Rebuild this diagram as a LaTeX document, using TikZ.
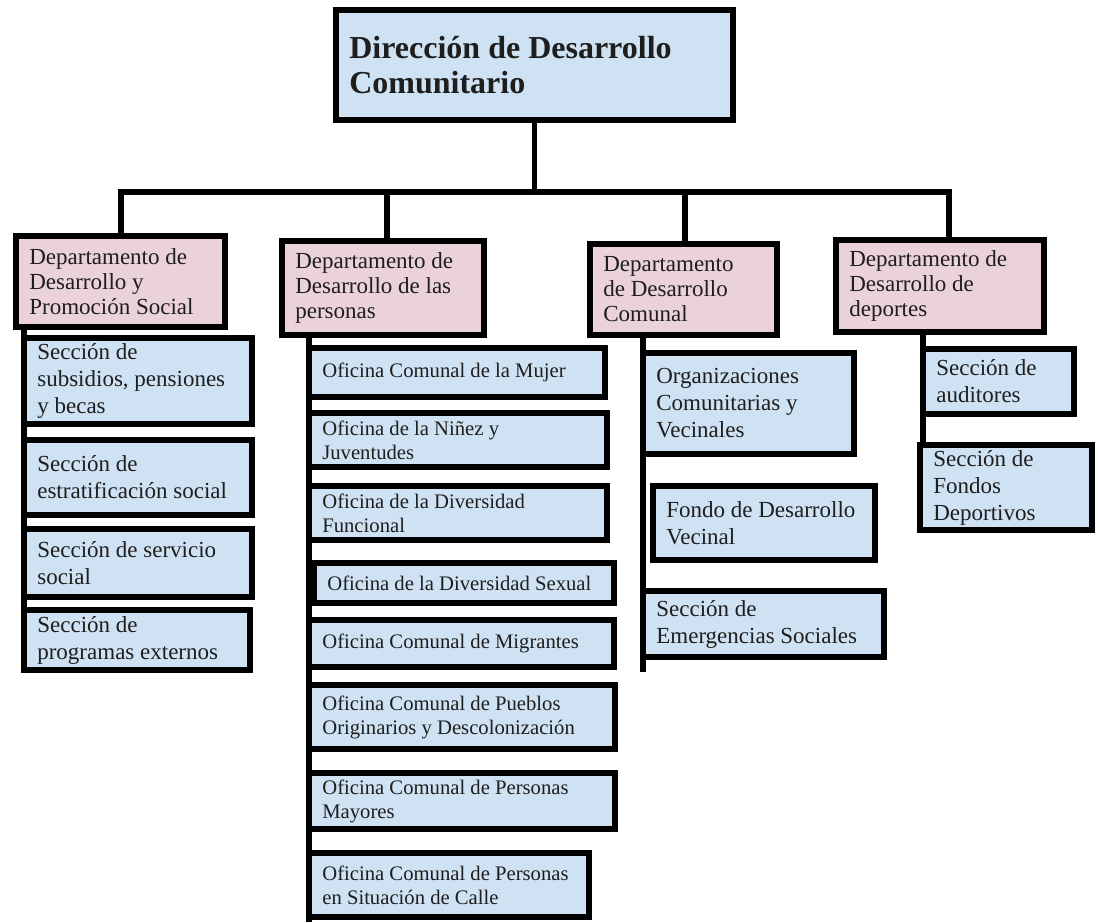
\documentclass[tikz,border=0pt]{standalone}
\usepackage{fontspec}
\setmainfont{Liberation Serif}
\definecolor{boxblue}{HTML}{CFE2F3}
\definecolor{boxpink}{HTML}{EAD1DC}
\definecolor{ink}{HTML}{1E1E1E}
\tikzset{
  base/.style={draw=black, line width=4.5pt, outer sep=0pt, inner xsep=10pt, inner ysep=2pt,
    align=flush left, text=ink, rectangle},
  titlebox/.style={base, fill=boxblue, font=\bfseries\fontsize{24}{26}\selectfont},
  deptbox/.style={base, fill=boxpink, font=\fontsize{17.25}{18.75}\selectfont},
  secbox/.style={base, fill=boxblue, font=\fontsize{17.25}{20.25}\selectfont},
  offbox/.style={base, fill=boxblue, font=\fontsize{15.5}{18}\selectfont},
  conn/.style={draw=black, line width=4pt},
  spine/.style={draw=black, line width=4.5pt},
}
% #1 style, #2 name, #3 x1, #4 y1, #5 x2, #6 y2 (outer edges, px), #7 text
\newcommand\obox[7]{%
  \pgfmathsetmacro\bw{(#5-#3)*0.75-4.5}%
  \pgfmathsetmacro\bh{(#6-#4)*0.75-4.5}%
  \pgfmathsetmacro\tw{\bw-20}%
  \node[#1, anchor=north west, minimum width=\bw pt, minimum height=\bh pt, text width=\tw pt] (#2) at ({#3+3},{#4+3}) {#7};%
}
\begin{document}
\begin{tikzpicture}[x=0.75pt, y=-0.75pt]
\useasboundingbox (0,0) rectangle (1098,922);
% top
\obox{titlebox}{top}{333}{7}{736}{123}{Dirección de Desarrollo\\Comunitario}
% departments
\obox{deptbox}{d1}{13}{233}{228}{330}{Departamento de\\Desarrollo y\\Promoción Social}
\obox{deptbox}{d2}{279}{238}{487}{338}{Departamento de\\Desarrollo de las\\personas}
\obox{deptbox}{d3}{587}{241}{780}{338}{Departamento\\de Desarrollo\\Comunal}
\obox{deptbox}{d4}{833}{237}{1047}{335}{Departamento de\\Desarrollo de\\deportes}
% left column
\obox{secbox}{L1}{21}{335}{255}{427}{Sección de\\subsidios, pensiones\\y becas}
\obox{secbox}{L2}{21}{437}{255}{518}{Sección de\\estratificación social}
\obox{secbox}{L3}{21}{526}{255}{600}{Sección de servicio\\social}
\obox{secbox}{L4}{21}{607}{253}{673}{Sección de\\programas externos}
% middle column
\obox{offbox}{M1}{306}{345}{608}{400}{Oficina Comunal de la Mujer}
\obox{offbox}{M2}{306}{410}{610}{470}{Oficina de la Niñez y\\Juventudes}
\obox{offbox}{M3}{306}{483}{610}{543}{Oficina de la Diversidad\\Funcional}
\obox{offbox}{M4}{311}{560}{617}{606}{Oficina de la Diversidad Sexual}
\obox{offbox}{M5}{306}{617}{617}{670}{Oficina Comunal de Migrantes}
\obox{offbox}{M6}{306}{682}{618}{752}{Oficina Comunal de Pueblos\\Originarios y Descolonización}
\obox{offbox}{M7}{306}{770}{618}{832}{Oficina Comunal de Personas\\Mayores}
\obox{offbox}{M8}{306}{850}{592}{920}{Oficina Comunal de Personas\\en Situación de Calle}
% third column
\obox{secbox}{C1}{640}{350}{857}{457}{Organizaciones\\Comunitarias y\\Vecinales}
\obox{secbox}{C2}{650}{483}{878}{563}{Fondo de Desarrollo\\Vecinal}
\obox{secbox}{C3}{640}{588}{887}{660}{Sección de\\Emergencias Sociales}
% fourth column
\obox{secbox}{R1}{920}{346}{1077}{417}{Sección de\\auditores}
\obox{secbox}{R2}{917}{442}{1095}{533}{Sección de\\Fondos\\Deportivos}
% tree connectors
\coordinate (b1) at (121,192);
\coordinate (b2) at (387,192);
\coordinate (b3) at (685,192);
\coordinate (b4) at (949,192);
\draw[conn] (top.south) -- (top.south |- b1);
\draw[conn, line join=miter] (b1 |- d1.north) -- (b1) -- (b4) -- (b4 |- d4.north);
\draw[conn] (b2) -- (b2 |- d2.north);
\draw[conn] (b3) -- (b3 |- d3.north);
% spines
\coordinate (mend) at (309,922);
\coordinate (cend) at (643,672);
\draw[spine] (d1.south -| L1.west) -- (L4.south west);
\draw[spine] (d2.south -| mend) -- (mend);
\draw[spine] (d3.south -| cend) -- (cend);
\draw[spine] (d4.south -| R1.west) -- (R2.north -| R1.west);
\end{tikzpicture}
\end{document}
